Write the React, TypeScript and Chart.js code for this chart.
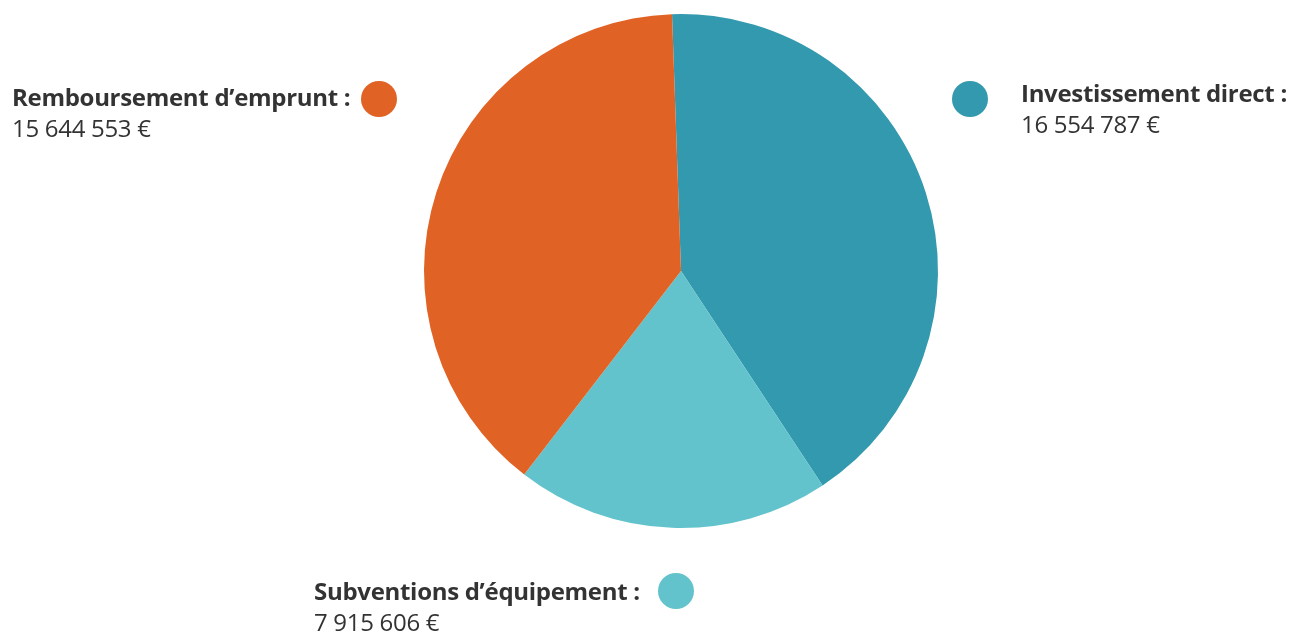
import React, { useEffect, useRef } from "react";
import { Chart, registerables } from "chart.js";

Chart.register(...registerables);

const categories = ["Investissement direct", "Subventions d’équipement", "Remboursement d’emprunt"];
const values = [16554787, 7915606, 15644553];
const valueLabels = ["16 554 787 €", "7 915 606 €", "15 644 553 €"];
const colors = ["#3399AE", "#62C3CC", "#E06224"];

const textColor = "#333333";
const fontFamily = "'Open Sans', 'Noto Sans', sans-serif";

type LabelPos = { left: number; top: number; dotX: number; dotY: number };
const labelPos: LabelPos[] = [
  { left: 1021, top: 77, dotX: 970, dotY: 99 },
  { left: 314, top: 575, dotX: 676, dotY: 591 },
  { left: 12, top: 81, dotX: 379, dotY: 99 },
];

export default function App() {
  const ref = useRef<HTMLCanvasElement | null>(null);
  useEffect(() => {
    document.body.style.margin = "0";
    const chart = new Chart(ref.current!, {
      type: "pie",
      data: {
        labels: categories,
        datasets: [{ data: values, backgroundColor: colors, borderWidth: 0 }],
      },
      options: {
        animation: false,
        responsive: false,
        rotation: -2,
        layout: { padding: { left: 424, right: 352, top: 14, bottom: 106 } },
        plugins: { legend: { display: false }, tooltip: { enabled: false } },
      },
    });
    return () => chart.destroy();
  }, []);

  return (
    <div style={{ position: "relative", width: 1290, height: 634, background: "#fff", overflow: "hidden" }}>
      <canvas ref={ref} width={1290} height={634} style={{ position: "absolute", left: 0, top: 0 }} />
      {categories.map((c, i) => {
        const p = labelPos[i];
        return (
          <React.Fragment key={c}>
            <div
              style={{
                position: "absolute",
                left: p.dotX - 18,
                top: p.dotY - 18,
                width: 36,
                height: 36,
                borderRadius: "50%",
                background: colors[i],
              }}
            />
            <div
              style={{
                position: "absolute",
                left: p.left,
                top: p.top,
                fontFamily,
                color: textColor,
                fontSize: 24,
                lineHeight: "31px",
                whiteSpace: "nowrap",
                letterSpacing: "-0.3px",
              }}
            >
              <div style={{ fontWeight: 700 }}>{c} :</div>
              <div style={{ fontWeight: 400 }}>{valueLabels[i]}</div>
            </div>
          </React.Fragment>
        );
      })}
    </div>
  );
}
